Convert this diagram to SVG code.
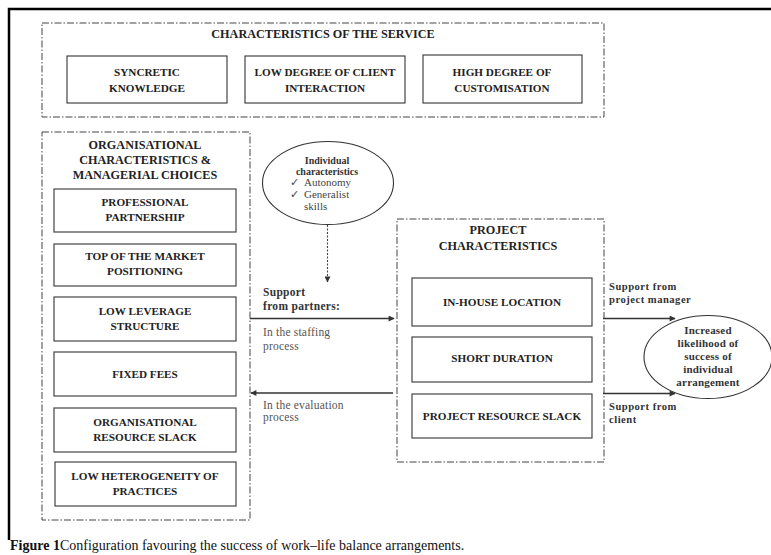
<svg xmlns="http://www.w3.org/2000/svg" width="771" height="555" viewBox="0 0 771 555">
<defs>
<style>
.bg{fill:#fff}
.frame{stroke:#000;stroke-width:2.5;fill:none}
.grp{fill:none;stroke:#444;stroke-width:1;stroke-dasharray:7,2,1.5,2}
.box{fill:#fff;stroke:#333;stroke-width:1.1}
.ell{fill:#fff;stroke:#333;stroke-width:1.1}
.t{font-family:"Liberation Serif","DejaVu Serif",serif;font-weight:bold;font-size:11.2px;fill:#222;text-anchor:middle}
.g{font-family:"Liberation Serif","DejaVu Serif",serif;font-weight:bold;font-size:12.2px;fill:#222;text-anchor:middle}
.s{font-family:"Liberation Serif","DejaVu Serif",serif;font-weight:bold;font-size:11.5px;letter-spacing:0.3px;fill:#333}
.s2{font-family:"Liberation Serif","DejaVu Serif",serif;font-weight:bold;font-size:10.6px;letter-spacing:0.5px;fill:#333}
.r{font-family:"Liberation Serif","DejaVu Serif",serif;font-size:11.5px;letter-spacing:0.2px;fill:#555}
.e{font-family:"Liberation Serif","DejaVu Serif",serif;font-weight:bold;font-size:10px;fill:#333;text-anchor:middle}
.e2{font-family:"Liberation Serif","DejaVu Serif",serif;font-weight:bold;font-size:11px;letter-spacing:0.2px;fill:#333;text-anchor:middle}
.er{font-family:"Liberation Serif","DejaVu Serif",serif;font-size:11px;fill:#444}
.cap{font-family:"Liberation Serif","DejaVu Serif",serif;font-size:14px;fill:#111}
.arr{stroke:#333;stroke-width:1.3;fill:none;marker-end:url(#ah)}
.dash{stroke:#444;stroke-width:1.1;fill:none;stroke-dasharray:2,1.5;marker-end:url(#ah)}
</style>
<marker id="ah" viewBox="0 0 10 10" refX="9" refY="5" markerWidth="7" markerHeight="6" orient="auto" markerUnits="userSpaceOnUse">
<path d="M0,0 L10,5 L0,10 z" fill="#333"/>
</marker>
</defs>
<rect class="bg" x="0" y="0" width="771" height="555"/>
<path class="frame" d="M9,540 L9,9 L771,9"/>

<g id="service">
<rect class="grp" x="42" y="23" width="562" height="94"/>
<text class="g" x="323" y="37.5">CHARACTERISTICS OF THE SERVICE</text>
</g>
<g id="syncretic">
<rect class="box" x="67" y="56" width="160" height="47"/>
<text class="t" x="147" y="76">SYNCRETIC</text>
<text class="t" x="147" y="92">KNOWLEDGE</text>
</g>
<g id="lowclient">
<rect class="box" x="245" y="56" width="160" height="47"/>
<text class="t" x="325" y="76">LOW DEGREE OF CLIENT</text>
<text class="t" x="325" y="92">INTERACTION</text>
</g>
<g id="highcustom">
<rect class="box" x="423" y="55" width="159" height="48"/>
<text class="t" x="502" y="76">HIGH DEGREE OF</text>
<text class="t" x="502" y="92">CUSTOMISATION</text>
</g>

<g id="org">
<rect class="grp" x="42" y="132" width="208" height="388"/>
<text class="g" x="145" y="148.5">ORGANISATIONAL</text>
<text class="g" x="145" y="163.5">CHARACTERISTICS &amp;</text>
<text class="g" x="145" y="178.5">MANAGERIAL CHOICES</text>
</g>
<g id="partnership">
<rect class="box" x="54" y="189" width="182" height="43"/>
<text class="t" x="145" y="206">PROFESSIONAL</text>
<text class="t" x="145" y="221">PARTNERSHIP</text>
</g>
<g id="topmarket">
<rect class="box" x="54" y="244" width="182" height="42"/>
<text class="t" x="145" y="260">TOP OF THE MARKET</text>
<text class="t" x="145" y="275">POSITIONING</text>
</g>
<g id="leverage">
<rect class="box" x="54" y="297" width="182" height="44"/>
<text class="t" x="145" y="315">LOW LEVERAGE</text>
<text class="t" x="145" y="330">STRUCTURE</text>
</g>
<g id="fixedfees">
<rect class="box" x="54" y="352" width="182" height="44"/>
<text class="t" x="145" y="377.5">FIXED FEES</text>
</g>
<g id="orgslack">
<rect class="box" x="54" y="408" width="182" height="44"/>
<text class="t" x="145" y="426">ORGANISATIONAL</text>
<text class="t" x="145" y="440.5">RESOURCE SLACK</text>
</g>
<g id="heterogeneity">
<rect class="box" x="55" y="462" width="181" height="44"/>
<text class="t" x="145" y="480">LOW HETEROGENEITY OF</text>
<text class="t" x="145" y="494.5">PRACTICES</text>
</g>

<g id="individual">
<ellipse class="ell" cx="328" cy="183" rx="65.5" ry="41.5"/>
<text class="e" x="327" y="163.5">Individual</text>
<text class="e" x="327" y="175">characteristics</text>
<text class="er" x="290" y="186">✓</text>
<text class="er" x="304" y="186">Autonomy</text>
<text class="er" x="290" y="197.5">✓</text>
<text class="er" x="304" y="197.5">Generalist</text>
<text class="er" x="304" y="209.5">skills</text>
</g>

<g id="project">
<rect class="grp" x="397" y="219" width="207" height="243"/>
<text class="g" x="498" y="233.5">PROJECT</text>
<text class="g" x="498" y="249.5">CHARACTERISTICS</text>
</g>
<g id="inhouse">
<rect class="box" x="412" y="278" width="180" height="48"/>
<text class="t" x="502" y="306">IN-HOUSE LOCATION</text>
</g>
<g id="shortduration">
<rect class="box" x="412" y="337" width="180" height="45"/>
<text class="t" x="502" y="362">SHORT DURATION</text>
</g>
<g id="projslack">
<rect class="box" x="412" y="394" width="180" height="44"/>
<text class="t" x="502" y="420">PROJECT RESOURCE SLACK</text>
</g>

<g id="outcome">
<ellipse class="ell" cx="708" cy="357" rx="64" ry="41.5"/>
<text class="e2" x="708" y="333.5">Increased</text>
<text class="e2" x="708" y="347">likelihood of</text>
<text class="e2" x="708" y="359.5">success of</text>
<text class="e2" x="708" y="373">individual</text>
<text class="e2" x="708" y="385.5">arrangement</text>
</g>

<g id="connectors">
<path class="dash" d="M327.5,225 L327.5,282"/>
<path class="arr" d="M250,318.5 L394,318.5"/>
<path class="arr" d="M393,393 L251,393"/>
<path class="arr" d="M603,318.5 L675,318.5"/>
<path class="arr" d="M603,393.5 L675,393.5"/>
<text class="s" x="263" y="296">Support</text>
<text class="s" x="263" y="309.5">from partners:</text>
<text class="r" x="263" y="336">In the staffing</text>
<text class="r" x="263" y="349.5">process</text>
<text class="r" x="263" y="408.5">In the evaluation</text>
<text class="r" x="263" y="421">process</text>
<text class="s2" x="609" y="290">Support from</text>
<text class="s2" x="609" y="302.5">project manager</text>
<text class="s2" x="609" y="410">Support from</text>
<text class="s2" x="609" y="422.5">client</text>
</g>

<text class="cap" x="10" y="550"><tspan font-weight="bold">Figure 1</tspan>Configuration favouring the success of work–life balance arrangements.</text>
</svg>
